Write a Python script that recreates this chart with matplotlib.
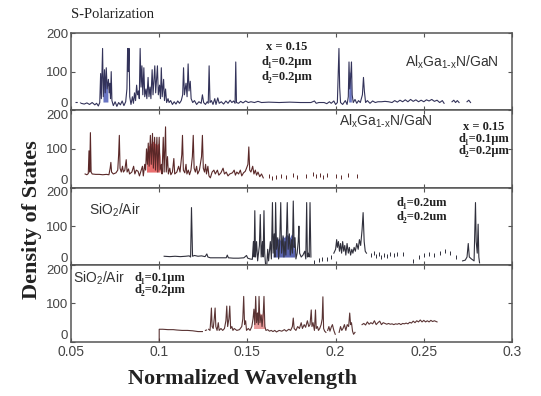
import numpy as np
import matplotlib
matplotlib.use("Agg")
import matplotlib.pyplot as plt

nan = float("nan")

# x ticks / y ticks
x_ticks = [0.05, 0.1, 0.15, 0.2, 0.25, 0.3]
x_tick_labels = ["0.05", "0.1", "0.15", "0.2", "0.25", "0.3"]
y_ticks = [0, 100, 200]

# panel 1: AlGaN/GaN, d1=0.2, d2=0.2
p1_lead = [(0.0520, 22), (0.0550, 22)]
p1_trace = [
    (0.0557, 18), (0.0575, 16), (0.0590, 19), (0.0605, 15), (0.0620, 20), (0.0635, 14),
    (0.0645, 18), (0.0655, 11), (0.0663, 20), (0.0668, 95), (0.0672, 30), (0.0679, 160),
    (0.0683, 35), (0.0690, 105), (0.0694, 45), (0.0700, 110), (0.0705, 55), (0.0712, 80),
    (0.0716, 45), (0.0720, 70), (0.0724, 30), (0.0728, 100), (0.0732, 25), (0.0740, 12),
    (0.0750, 22), (0.0760, 10), (0.0770, 20), (0.0780, 14), (0.0790, 24), (0.0800, 12),
    (0.0810, 22), (0.0817, 55), (0.0821, 160), (0.0825, 100), (0.0829, 160), (0.0833, 35),
    (0.0840, 15), (0.0848, 35), (0.0854, 18), (0.0860, 45), (0.0866, 25), (0.0872, 65),
    (0.0877, 40), (0.0883, 50), (0.0887, 30), (0.0892, 160), (0.0897, 60), (0.0902, 115),
    (0.0907, 40), (0.0913, 110), (0.0918, 35), (0.0925, 55), (0.0930, 30), (0.0937, 85),
    (0.0942, 35), (0.0948, 60), (0.0953, 30), (0.0960, 105), (0.0965, 40), (0.0975, 115),
    (0.0980, 45), (0.0990, 115), (0.0995, 40), (0.1002, 65), (0.1007, 30), (0.1012, 110),
    (0.1017, 35), (0.1025, 80), (0.1030, 25), (0.1036, 55), (0.1042, 20), (0.1050, 30),
    (0.1056, 20), (0.1065, 25), (0.1075, 15), (0.1085, 22), (0.1095, 16), (0.1105, 24),
    (0.1115, 18), (0.1125, 25), (0.1133, 40), (0.1138, 110), (0.1143, 40), (0.1152, 70),
    (0.1158, 35), (0.1164, 120), (0.1169, 50), (0.1176, 75), (0.1181, 30), (0.1190, 20),
    (0.1200, 25), (0.1212, 15), (0.1225, 22), (0.1238, 18), (0.1245, 40), (0.1252, 20),
    (0.1262, 15), (0.1272, 22), (0.1278, 18), (0.1283, 115), (0.1288, 20), (0.1296, 25),
    (0.1305, 15), (0.1315, 30), (0.1322, 15), (0.1332, 32), (0.1340, 18), (0.1352, 22),
    (0.1365, 16), (0.1378, 24), (0.1390, 18), (0.1402, 26), (0.1412, 20), (0.1422, 24),
    (0.1430, 18), (0.1434, 125), (0.1438, 20), (0.1450, 18), (0.1462, 23), (0.1475, 19),
    (0.1490, 24), (0.1505, 20), (0.1520, 22), (0.1540, 20), (0.1560, 23), (0.1580, 20),
    (0.1620, 21), (0.1680, 20), (0.1740, 21), (0.1800, 20), (0.1860, 20), (0.1880, 24),
    (0.1890, 18), (0.1905, 20), (0.1935, 20), (0.1950, 17), (0.1965, 22), (0.1975, 18),
    (0.1990, 24), (0.2000, 15), (0.2010, 20), (0.2015, 100), (0.2019, 160), (0.2023, 60),
    (0.2028, 20), (0.2040, 15), (0.2055, 25), (0.2065, 15), (0.2072, 35), (0.2076, 125),
    (0.2080, 55), (0.2086, 90), (0.2090, 125), (0.2094, 40), (0.2100, 20), (0.2110, 28),
    (0.2120, 18), (0.2130, 25), (0.2140, 20), (0.2152, 40), (0.2158, 85), (0.2163, 50),
    (0.2170, 20), (0.2180, 25), (0.2195, 18), (0.2210, 24), (0.2225, 20), (0.2240, 22),
    (0.2260, 22), (0.2280, 23), (0.2300, 22), (0.2320, 20), (0.2335, 25), (0.2350, 21),
    (0.2365, 26), (0.2380, 22), (0.2395, 27), (0.2410, 22), (0.2425, 28), (0.2440, 23),
    (0.2455, 27), (0.2470, 22), (0.2485, 26), (0.2500, 22), (0.2515, 27), (0.2530, 24),
    (0.2545, 28), (0.2560, 23), (0.2575, 26), (0.2590, 20), (0.2605, 25), (0.2615, 18),
    (nan, nan), (0.2660, 22), (0.2670, 26), (0.2680, 20), (0.2690, 25), (0.2700, 20),
    (nan, nan), (0.2745, 22), (0.2755, 26), (0.2765, 20),
]
p1_fill = [(0.0684, 30), (0.0688, 75), (0.0694, 60), (0.0700, 80), (0.0706, 70), (0.0712, 40),
           (nan, nan), (0.2077, 40), (0.2080, 100), (0.2085, 95), (0.2089, 105), (0.2092, 40)]

# panel 2: AlGaN/GaN, d1=0.1, d2=0.2
p2_trace = [
    (0.0580, 35), (0.0590, 33), (0.0598, 36), (0.0602, 95), (0.0606, 40), (0.0610, 142),
    (0.0614, 40), (0.0620, 35), (0.0640, 34), (0.0660, 34), (0.0680, 33), (0.0700, 34),
    (0.0715, 33), (0.0722, 50), (0.0726, 65), (0.0730, 40), (0.0740, 35), (0.0755, 38),
    (0.0765, 45), (0.0770, 85), (0.0774, 135), (0.0778, 50), (0.0785, 40), (0.0792, 55),
    (0.0797, 40), (0.0805, 45), (0.0813, 72), (0.0818, 40), (0.0826, 48), (0.0832, 35),
    (0.0845, 40), (0.0855, 55), (0.0862, 35), (0.0870, 45), (0.0880, 42), (0.0888, 30),
    (0.0895, 40), (0.0905, 55), (0.0910, 30), (0.0918, 60), (0.0923, 45), (0.0928, 100),
    (0.0933, 60), (0.0938, 115), (0.0943, 55), (0.0950, 135), (0.0955, 60), (0.0962, 140),
    (0.0967, 50), (0.0974, 130), (0.0979, 45), (0.0987, 130), (0.0992, 40), (0.1000, 130),
    (0.1005, 45), (0.1012, 60), (0.1016, 35), (0.1023, 130), (0.1028, 40), (0.1036, 157),
    (0.1040, 40), (0.1047, 80), (0.1052, 35), (0.1060, 50), (0.1066, 33), (0.1075, 40),
    (0.1083, 75), (0.1088, 35), (0.1100, 40), (0.1110, 55), (0.1118, 40), (0.1128, 85),
    (0.1132, 135), (0.1137, 45), (0.1145, 38), (0.1152, 60), (0.1157, 35), (0.1165, 45),
    (0.1172, 33), (0.1180, 45), (0.1188, 80), (0.1193, 135), (0.1198, 50), (0.1205, 40),
    (0.1212, 55), (0.1218, 35), (0.1228, 45), (0.1240, 80), (0.1245, 135), (0.1250, 50),
    (0.1257, 40), (0.1263, 60), (0.1268, 35), (0.1276, 55), (0.1282, 30), (0.1290, 25),
    (0.1300, 40), (0.1310, 45), (0.1318, 35), (0.1330, 45), (0.1338, 32), (0.1350, 38),
    (0.1362, 50), (0.1370, 35), (0.1380, 40), (0.1390, 30), (0.1400, 35), (0.1415, 38),
    (0.1425, 45), (0.1432, 32), (0.1440, 40), (0.1450, 35), (0.1460, 45), (0.1468, 30),
    (0.1478, 38), (0.1488, 42), (0.1495, 50), (0.1503, 60), (0.1508, 105), (0.1513, 45),
    (0.1520, 40), (0.1530, 55), (0.1537, 35), (0.1545, 45), (0.1552, 32), (0.1560, 40),
    (0.1570, 28), (0.1580, 35), (0.1590, 25),
]
p2_dots = [(0.1620, 30), (0.1640, 25), (0.1660, 28), (0.1690, 30), (0.1720, 27), (0.1760, 32),
           (0.1780, 28), (0.1830, 30), (0.1870, 35), (0.1890, 30), (0.1910, 33), (0.1930, 28),
           (0.1950, 32), (0.2000, 30), (0.2030, 28), (0.2070, 33), (0.2120, 30)]
p2_fill = [(0.0928, 60), (0.0935, 105), (0.0945, 110), (0.0955, 115), (0.0965, 120),
           (0.0975, 115), (0.0985, 110), (0.0995, 115), (0.1005, 80)]

# panel 3: SiO2/Air, d1=0.2, d2=0.2
p3_trace = [
    (0.1028, 22), (0.1060, 21), (0.1090, 22), (0.1120, 21), (0.1150, 22), (0.1170, 23),
    (0.1178, 20), (0.1181, 90), (0.1183, 148), (0.1186, 90), (0.1189, 22), (0.1200, 24),
    (0.1220, 22), (0.1240, 23), (0.1260, 21), (0.1270, 28), (0.1276, 20), (0.1290, 18),
    (0.1320, 18), (0.1350, 18), (0.1380, 18), (0.1386, 25), (0.1392, 18), (0.1420, 17),
    (0.1450, 17), (0.1480, 18), (0.1495, 24), (0.1502, 17), (0.1515, 15), (0.1528, 14),
    (0.1534, 60), (0.1538, 20), (0.1542, 140), (0.1546, 20), (0.1552, 60), (0.1558, 10),
    (0.1568, 50), (0.1573, 130), (0.1578, 20), (0.1585, 60), (0.1589, 20), (0.1594, 140),
    (0.1598, 30), (0.1603, 0), (0.1610, 0), (0.1615, 40), (0.1620, 10), (0.1630, 60),
    (0.1636, 15), (0.1642, 161), (0.1646, 30), (0.1652, 80), (0.1656, 20), (0.1660, 161),
    (0.1665, 40), (0.1672, 70), (0.1677, 15), (0.1683, 55), (0.1689, 161), (0.1694, 30),
    (0.1702, 75), (0.1707, 20), (0.1713, 60), (0.1718, 25), (0.1726, 161), (0.1731, 40),
    (0.1738, 80), (0.1743, 25), (0.1750, 65), (0.1755, 30), (0.1760, 165), (0.1765, 45),
    (0.1770, 70), (0.1775, 15), (0.1782, 30), (0.1788, 60), (0.1792, 100), (0.1796, 30),
    (0.1805, 20), (0.1815, 25), (0.1825, 35), (0.1831, 15), (0.1836, 161), (0.1840, 20),
    (0.1846, 30), (0.1850, 20), (0.1855, 161), (0.1860, 20),
    (nan, nan),
    (0.1990, 30), (0.2000, 40), (0.2006, 65), (0.2010, 45), (0.2016, 60), (0.2022, 35),
    (0.2028, 55), (0.2034, 30), (0.2040, 60), (0.2046, 35), (0.2052, 50), (0.2058, 25),
    (0.2065, 55), (0.2072, 30), (0.2078, 45), (0.2085, 25), (0.2092, 40), (0.2098, 30),
    (0.2105, 45), (0.2112, 35), (0.2120, 55), (0.2128, 40), (0.2135, 65), (0.2142, 50),
    (0.2150, 90), (0.2156, 135), (0.2162, 60), (0.2168, 35), (0.2175, 30),
    (nan, nan),
    (0.2720, 10), (0.2735, 12), (0.2745, 20), (0.2752, 55), (0.2758, 20), (0.2770, 15),
    (0.2785, 10), (0.2790, 100), (0.2793, 161), (0.2797, 60), (0.2803, 30), (0.2808, 105),
    (0.2812, 20), (0.2816, 5),
]
p3_dots = [(0.1880, 8), (0.1905, 12), (0.1925, 14), (0.1950, 15), (0.1975, 20),
           (0.2200, 25), (0.2215, 30), (0.2230, 22), (0.2245, 28), (0.2260, 20), (0.2275, 25),
           (0.2290, 22), (0.2310, 28), (0.2330, 26), (0.2350, 27), (0.2380, 27), (0.2440, 10),
           (0.2470, 20), (0.2500, 25), (0.2530, 28), (0.2560, 26), (0.2590, 30), (0.2620, 35),
           (0.2650, 30), (0.2680, 20)]
p3_fill = [(0.1645, 25), (0.1650, 70), (0.1660, 75), (0.1670, 65), (0.1680, 70), (0.1690, 60),
           (0.1700, 75), (0.1710, 70), (0.1720, 80), (0.1730, 75), (0.1740, 70), (0.1750, 80),
           (0.1760, 75), (0.1768, 30)]

# panel 4: SiO2/Air, d1=0.1, d2=0.2
p4_trace = [
    (0.1000, 0), (0.1000, 33), (0.1020, 33), (0.1050, 32), (0.1080, 32), (0.1100, 31),
    (0.1130, 30), (0.1160, 30), (0.1190, 29), (0.1220, 27), (0.1245, 27), (nan, nan),
    (0.1262, 30), (0.1268, 31), (nan, nan),
    (0.1280, 33), (0.1288, 30), (0.1292, 55), (0.1296, 88), (0.1300, 40), (0.1306, 35),
    (0.1312, 60), (0.1317, 88), (0.1321, 40), (0.1328, 30), (0.1335, 50), (0.1340, 30),
    (0.1350, 35), (0.1360, 30), (0.1370, 35), (0.1378, 55), (0.1383, 93), (0.1388, 40),
    (0.1395, 60), (0.1400, 93), (0.1405, 35), (0.1412, 40), (0.1418, 30), (0.1425, 35),
    (0.1440, 30), (0.1455, 32), (0.1468, 40), (0.1474, 60), (0.1479, 118), (0.1484, 45),
    (0.1490, 55), (0.1495, 30), (0.1505, 35), (0.1515, 30), (0.1525, 40), (0.1532, 60),
    (0.1537, 85), (0.1542, 45), (0.1547, 118), (0.1552, 50), (0.1557, 75), (0.1562, 45),
    (0.1566, 118), (0.1571, 50), (0.1578, 70), (0.1583, 40), (0.1590, 75), (0.1594, 118),
    (0.1599, 40), (0.1605, 30), (0.1615, 32), (0.1625, 28), (0.1635, 30), (0.1645, 27),
    (0.1655, 30), (0.1665, 26), (0.1680, 30), (0.1695, 28), (0.1710, 32), (0.1720, 28),
    (0.1735, 33), (0.1745, 30), (0.1755, 40), (0.1760, 62), (0.1765, 35), (0.1775, 30),
    (0.1785, 40), (0.1795, 35), (0.1805, 50), (0.1812, 35), (0.1822, 45), (0.1830, 38),
    (0.1840, 55), (0.1848, 40), (0.1855, 45), (0.1862, 83), (0.1866, 40), (0.1872, 50),
    (0.1880, 30), (0.1886, 83), (0.1890, 35), (0.1897, 40), (0.1903, 30), (0.1910, 35),
    (0.1918, 45), (0.1924, 60), (0.1928, 117), (0.1932, 35), (0.1938, 28), (0.1945, 25),
    (nan, nan),
    (0.1955, 30), (0.1962, 40), (0.1968, 28), (0.1975, 38), (0.1982, 45), (0.1990, 30),
    (0.1998, 20), (nan, nan),
    (0.2020, 25), (0.2028, 40), (0.2035, 30), (0.2042, 35), (0.2050, 45), (0.2058, 30),
    (0.2066, 45), (0.2074, 40), (0.2080, 75), (0.2085, 45), (0.2090, 50), (0.2096, 28),
    (0.2102, 20), (0.2110, 25), (nan, nan),
    (0.2150, 45), (0.2160, 48), (0.2170, 44), (0.2180, 52), (0.2190, 46), (0.2200, 50),
    (0.2210, 47), (0.2220, 55), (0.2230, 45), (0.2240, 50), (0.2250, 54), (0.2260, 45),
    (0.2270, 50), (0.2280, 48), (0.2290, 46), (0.2300, 48), (0.2310, 46), (0.2320, 47),
    (0.2330, 45), (0.2340, 47), (0.2350, 46), (0.2360, 48), (0.2370, 45), (0.2380, 48),
    (0.2390, 47), (0.2400, 49), (0.2410, 47), (0.2420, 51), (0.2430, 49), (0.2440, 54),
    (0.2450, 50), (0.2460, 55), (0.2470, 52), (0.2480, 57), (0.2490, 52), (0.2500, 56),
    (0.2510, 52), (0.2520, 55), (0.2530, 52), (0.2540, 56), (0.2550, 53), (0.2560, 55),
    (0.2575, 52),
]
p4_fill = [(0.1535, 45), (0.1540, 70), (0.1550, 75), (0.1560, 80), (0.1570, 75), (0.1580, 70),
           (0.1590, 80), (0.1598, 45)]

panels = [
    dict(trace=p1_trace, fill=p1_fill, base=20, line="#33335a", fc="#2a3aa8", extra=p1_lead),
    dict(trace=p2_trace, fill=p2_fill, base=40, line="#5a2828", fc="#e03030", dots=p2_dots),
    dict(trace=p3_trace, fill=p3_fill, base=20, line="#30303c", fc="#14228e", dots=p3_dots),
    dict(trace=p4_trace, fill=p4_fill, base=35, line="#5a3434", fc="#e07070"),
]

serif = ["Liberation Serif", "DejaVu Serif"]
sans = ["Liberation Sans", "DejaVu Sans"]

fig = plt.figure(figsize=(5.41, 3.96), dpi=100)
left, width = 71 / 541, 441 / 541
top, bottom = 1 - 33 / 396, 1 - 342 / 396
h = (top - bottom) / 4

axes = []
for i, p in enumerate(panels):
    ax = fig.add_axes([left, top - (i + 1) * h, width, h])
    axes.append(ax)
    xs, ys = zip(*p["trace"])
    fx, fy = zip(*p["fill"])
    ax.fill_between(fx, p["base"], fy, color=p["fc"], alpha=0.7, lw=0, zorder=1)
    ax.plot(xs, ys, color=p["line"], lw=0.8, zorder=2)
    if "extra" in p:
        ex, ey = zip(*p["extra"])
        ax.plot(ex, ey, color=p["line"], lw=0.8, ls=(0, (2, 2)))
    if "dots" in p:
        dx, dy = zip(*p["dots"])
        ax.plot(dx, dy, ls="none", marker="|", ms=3, mew=0.7, color=p["line"])
    ax.set_xlim(0.05, 0.3)
    ax.set_ylim(0, 200)
    ax.set_xticks(x_ticks)
    ax.set_yticks(y_ticks)
    labs = ax.set_yticklabels([str(v) for v in y_ticks], family=sans, fontsize=9.5, color="#444444")
    labs[0].set_va("bottom")
    if i > 0:
        labs[2].set_va("top")
    ax.tick_params(direction="in", top=True, right=True, length=3, width=0.8, colors="#555555",
                   labelcolor="#444444", pad=2)
    if i < 3:
        ax.set_xticklabels([])
    else:
        ax.set_xticklabels(x_tick_labels, family=sans, fontsize=10, color="#444444")
    for s in ax.spines.values():
        s.set_color("#555555")
        s.set_linewidth(1.1)

fig.text(71 / 541, 1 - 15 / 396, "S-Polarization", family=serif, fontsize=10.5,
         va="center", ha="left", color="#222222")
fig.text(32 / 541, 1 - 220 / 396, "Density of States", family=serif, fontsize=16,
         fontweight="bold", rotation=90, va="center", ha="center", color="#222222")
fig.text(243 / 541, 1 - 379 / 396, "Normalized Wavelength", family=serif, fontsize=16,
         fontweight="bold", va="center", ha="center", color="#222222")

bold = dict(family=serif, fontsize=9, fontweight="bold", ha="center", va="center", color="#222222")
plain = dict(family=sans, fontsize=10, ha="center", va="center", color="#333333")
alg = r"Al$_\mathregular{x}$Ga$_\mathregular{1\text{-}x}$N/GaN"
sio = r"SiO$_\mathregular{2}$/Air"

def ft(px, py, s, **kw):
    fig.text(px / 541, 1 - py / 396, s, **kw)

ft(287, 47, "x = 0.15", **bold)
ft(287, 62, "d\u2081=0.2\u03bcm", **bold)
ft(287, 77, "d\u2082=0.2\u03bcm", **bold)
ft(452, 62, alg, **plain)

ft(386, 121, alg, **plain)
ft(484, 127, "x = 0.15", **bold)
ft(484, 139, "d\u2081=0.1\u03bcm", **bold)
ft(484, 151, "d\u2082=0.2\u03bcm", **bold)

ft(115, 210, sio, **plain)
ft(422, 203, "d\u2081=0.2um", **bold)
ft(422, 217, "d\u2082=0.2um", **bold)

ft(99, 278, sio, **plain)
ft(160, 278, "d\u2081=0.1\u03bcm", **bold)
ft(160, 290, "d\u2082=0.2\u03bcm", **bold)

fig.savefig("out.png", dpi=100)
